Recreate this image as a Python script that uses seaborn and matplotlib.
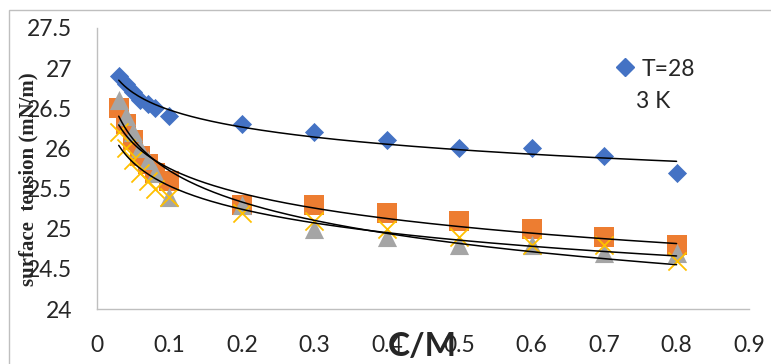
import numpy as np
import pandas as pd
import matplotlib
matplotlib.use('Agg')
import matplotlib.pyplot as plt
from matplotlib.patches import Rectangle
import seaborn as sns

sns.set_style('white')
plt.rcParams['font.family'] = ['Lato', 'DejaVu Sans']

conc = [0.03, 0.04, 0.05, 0.06, 0.07, 0.08, 0.1, 0.2, 0.3, 0.4, 0.5, 0.6, 0.7, 0.8]
t_283 = [26.9, 26.8, 26.7, 26.6, 26.55, 26.5, 26.4, 26.3, 26.2, 26.1, 26.0, 26.0, 25.9, 25.7]
t_293 = [26.5, 26.3, 26.1, 25.9, 25.8, 25.7, 25.6, 25.3, 25.3, 25.2, 25.1, 25.0, 24.9, 24.8]
t_303 = [26.6, 26.4, 26.2, 26.0, 25.85, 25.7, 25.4, 25.3, 25.0, 24.9, 24.8, 24.8, 24.7, 24.7]
t_313 = [26.2, 26.0, 25.85, 25.7, 25.6, 25.5, 25.4, 25.2, 25.1, 25.0, 24.9, 24.8, 24.8, 24.6]

series = [
    (t_283, '#4472C4', 'D', 95),
    (t_293, '#ED7D31', 's', 200),
    (t_303, '#A5A5A5', '^', 190),
    (t_313, '#FFC000', 'x', 170),
]

fig = plt.figure(figsize=(7.71, 3.64), dpi=100)
ax = fig.add_axes([97 / 771, 1 - 309 / 364, (749 - 97) / 771, (309 - 28) / 364])

x_fit = np.linspace(min(conc), max(conc), 200)
for vals, col, mk, size in series:
    df = pd.DataFrame({'c': conc, 'st': vals})
    if mk == 'x':
        sns.scatterplot(data=df, x='c', y='st', marker=mk, s=size, color=col,
                        linewidth=1.3, ax=ax, zorder=3)
    else:
        sns.scatterplot(data=df, x='c', y='st', marker=mk, s=size, color=col,
                        edgecolor=col, linewidth=0, ax=ax, zorder=3)

# logarithmic trendlines
for vals, col, mk, size in series:
    a, b = np.polyfit(np.log(conc), vals, 1)
    sns.lineplot(x=x_fit, y=a * np.log(x_fit) + b, color='black', lw=1.1,
                 ax=ax, zorder=4)

ax.set_xlim(0, 0.9)
ax.set_ylim(24, 27.5)
ax.set_xticks(np.arange(0, 0.91, 0.1))
ax.set_xticklabels(['0', '0.1', '0.2', '0.3', '0.4', '0.5', '0.6', '0.7', '0.8', '0.9'])
ax.set_yticks(np.arange(24, 27.51, 0.5))
ax.set_yticklabels(['24', '24.5', '25', '25.5', '26', '26.5', '27', '27.5'])
ax.tick_params(axis='both', length=0, labelsize=16.5)
ax.tick_params(axis='y', pad=18)
ax.tick_params(axis='x', pad=19)
for side in ['top', 'right']:
    ax.spines[side].set_visible(False)
for side in ['left', 'bottom']:
    ax.spines[side].set_color('#BFBFBF')
    ax.spines[side].set_linewidth(1.0)
ax.set_xlabel('')
ax.set_ylabel('')

fig.text(422 / 771, 1 - 347 / 364, 'C/M', fontsize=24, fontweight='bold',
         ha='center', va='center')
fig.text(28 / 771, 1 - 179 / 364, 'surface  tension (mN/m)', rotation=90,
         family='Liberation Serif', fontweight='bold', fontsize=15,
         ha='center', va='center')

handle = plt.Line2D([], [], marker='D', color='#4472C4', linestyle='none',
                    markersize=9)
ax.legend([handle], ['T=28'], loc='center left', frameon=False, fontsize=16.5,
          bbox_to_anchor=(600 / 771, 1 - 69 / 364), bbox_transform=fig.transFigure,
          handletextpad=0.1, handlelength=1.2, borderpad=0)
fig.text(636 / 771, 1 - 102 / 364, '3 K', fontsize=16.5, ha='left', va='center')

fig.patches.append(Rectangle((9 / 771, -0.1), 1.0, 1.1 - 10 / 364, fill=False,
                             edgecolor='#BFBFBF', lw=1.0,
                             transform=fig.transFigure, figure=fig))

fig.savefig('out.png', dpi=100)
